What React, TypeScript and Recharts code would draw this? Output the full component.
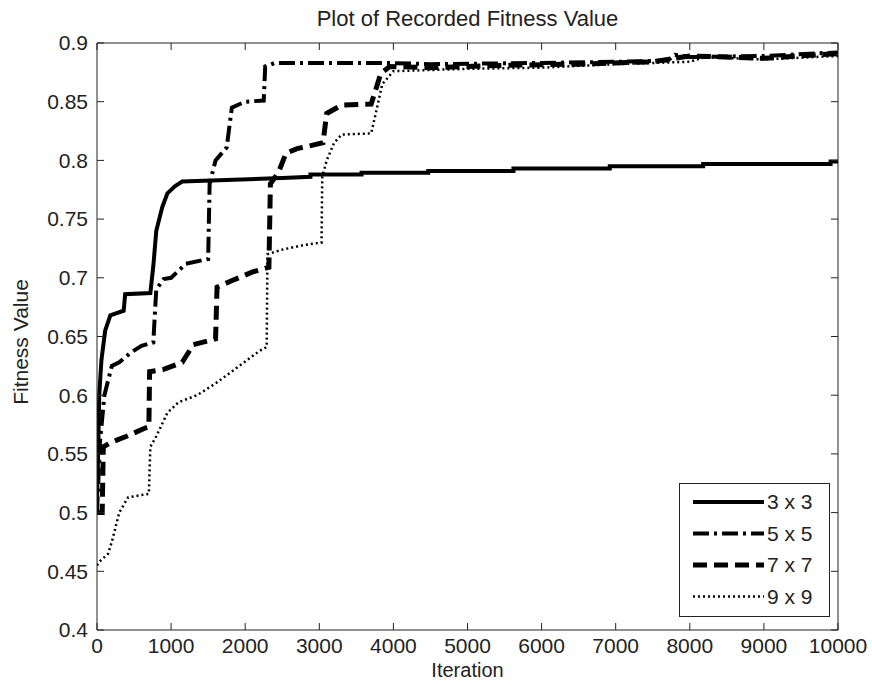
import React from "react";
import { LineChart, Line, XAxis, YAxis, ReferenceLine } from "recharts";

const FONT = '"Liberation Sans", Arial, sans-serif';

const WIDTH = 872;
const HEIGHT = 686;
const MARGIN = { top: 43, right: 34, bottom: 0, left: 0 };
const X_AXIS_H = 56;
const Y_AXIS_W = 97;
const PLOT_TOP = MARGIN.top;
const PLOT_BOTTOM = HEIGHT - MARGIN.bottom - X_AXIS_H;
const PLOT_LEFT = MARGIN.left + Y_AXIS_W;
const PLOT_RIGHT = WIDTH - MARGIN.right;
const TICK_LEN = 7;

const xTicks = [0, 1000, 2000, 3000, 4000, 5000, 6000, 7000, 8000, 9000, 10000];
const yTicks = [0.4, 0.45, 0.5, 0.55, 0.6, 0.65, 0.7, 0.75, 0.8, 0.85, 0.9];

// 3 x 3 (solid)
const iter3x3 = [0, 15, 30, 60, 110, 180, 360, 380, 720, 760, 800, 880, 950, 1050, 1150, 2500, 2880, 2880, 3570, 3570, 4470, 4470, 5620, 5620, 6920, 6920, 8180, 8180, 9900, 9900, 10000];
const fit3x3 = [0.51, 0.55, 0.6, 0.63, 0.655, 0.668, 0.672, 0.686, 0.687, 0.71, 0.74, 0.76, 0.772, 0.778, 0.782, 0.785, 0.786, 0.788, 0.788, 0.7895, 0.7895, 0.791, 0.791, 0.793, 0.793, 0.795, 0.795, 0.797, 0.797, 0.799, 0.799];

// 5 x 5 (dash-dot)
const iter5x5 = [0, 40, 100, 200, 300, 450, 600, 760, 780, 800, 900, 1000, 1200, 1500, 1520, 1600, 1750, 1820, 2000, 2250, 2270, 2400, 3900, 4500, 6000, 7000, 7700, 7800, 8000, 9000, 10000];
const fit5x5 = [0.5, 0.56, 0.6, 0.625, 0.628, 0.636, 0.642, 0.645, 0.668, 0.69, 0.699, 0.7, 0.712, 0.716, 0.78, 0.8, 0.811, 0.845, 0.85, 0.851, 0.88, 0.883, 0.883, 0.882, 0.883, 0.884, 0.885, 0.89, 0.888, 0.889, 0.892];

// 7 x 7 (dashed)
const iter7x7 = [0, 70, 85, 200, 400, 650, 700, 710, 900, 1150, 1300, 1600, 1620, 1800, 2100, 2320, 2340, 2450, 2550, 2700, 3050, 3100, 3300, 3700, 3760, 3830, 3950, 4500, 5500, 6500, 7500, 8000, 9000, 10000];
const fit7x7 = [0.5, 0.5, 0.556, 0.56, 0.565, 0.572, 0.573, 0.62, 0.622, 0.628, 0.643, 0.648, 0.692, 0.697, 0.705, 0.709, 0.78, 0.79, 0.806, 0.81, 0.815, 0.84, 0.847, 0.848, 0.86, 0.874, 0.88, 0.879, 0.881, 0.882, 0.884, 0.889, 0.887, 0.891];

// 9 x 9 (dotted)
const iter9x9 = [0, 30, 150, 200, 300, 420, 700, 720, 800, 950, 1100, 1350, 1600, 1900, 2200, 2290, 2300, 2500, 2800, 3030, 3040, 3100, 3200, 3300, 3700, 3780, 3850, 4000, 5000, 6000, 7000, 8000, 8200, 9000, 10000];
const fit9x9 = [0.455, 0.458, 0.465, 0.475, 0.5, 0.513, 0.516, 0.556, 0.565, 0.585, 0.594, 0.6, 0.61, 0.624, 0.638, 0.641, 0.72, 0.724, 0.728, 0.73, 0.786, 0.8, 0.815, 0.822, 0.823, 0.845, 0.865, 0.876, 0.878, 0.879, 0.882, 0.884, 0.888, 0.886, 0.889];

const toPoints = (iters: number[], fits: number[]) =>
  iters.map((iter, i) => ({ iter, fit: fits[i] }));

const series = [
  { name: "3 x 3", data: toPoints(iter3x3, fit3x3), dash: undefined, width: 4 },
  { name: "5 x 5", data: toPoints(iter5x5, fit5x5), dash: "16 5 3 5", width: 4 },
  { name: "7 x 7", data: toPoints(iter7x7, fit7x7), dash: "14 7", width: 5 },
  { name: "9 x 9", data: toPoints(iter9x9, fit9x9), dash: "2 3", width: 2.5 },
];

// matlab style: ticks point inward, on all four sides of the box
const XTick = (props: any) => {
  const { x, y, payload } = props;
  return (
    <g>
      <line x1={x} x2={x} y1={PLOT_BOTTOM} y2={PLOT_BOTTOM - TICK_LEN} stroke="#222" />
      <line x1={x} x2={x} y1={PLOT_TOP} y2={PLOT_TOP + TICK_LEN} stroke="#222" />
      <text x={x} y={y} dy="0.75em" textAnchor="middle" fontSize={21} fontFamily={FONT} fill="#222">
        {payload.value}
      </text>
    </g>
  );
};

const YTick = (props: any) => {
  const { x, y, payload } = props;
  return (
    <g>
      <line x1={PLOT_LEFT} x2={PLOT_LEFT + TICK_LEN} y1={y} y2={y} stroke="#222" />
      <line x1={PLOT_RIGHT} x2={PLOT_RIGHT - TICK_LEN} y1={y} y2={y} stroke="#222" />
      <text x={x} y={y} dy="0.35em" textAnchor="end" fontSize={21} fontFamily={FONT} fill="#222">
        {payload.value}
      </text>
    </g>
  );
};

// legend drawn on top of the plot, like matlab's "southeast" box
const LegendBox = () => (
  <div
    style={{
      position: "absolute",
      left: 679,
      top: 483,
      width: 151,
      height: 134,
      border: "1px solid #222",
      background: "#fff",
      boxSizing: "border-box",
    }}
  >
    <svg width={149} height={132} style={{ display: "block" }}>
      {series.map((s, i) => {
        const y = 18 + i * 31.5;
        return (
          <g key={s.name}>
            <line
              x1={13}
              x2={84}
              y1={y}
              y2={y}
              stroke="#000"
              strokeWidth={s.width}
              strokeDasharray={s.dash}
            />
            <text x={87} y={y} dy="0.35em" fontSize={21} fontFamily={FONT} fill="#222">
              {s.name}
            </text>
          </g>
        );
      })}
    </svg>
  </div>
);

export default function App() {
  return (
    <div
      style={{
        position: "absolute",
        left: 0,
        top: 0,
        width: WIDTH,
        height: HEIGHT,
        background: "#fff",
        fontFamily: FONT,
      }}
    >
      <LineChart width={WIDTH} height={HEIGHT} margin={MARGIN}>
        <XAxis
          dataKey="iter"
          type="number"
          domain={[0, 10000]}
          ticks={xTicks}
          height={X_AXIS_H}
          tickLine={false}
          tickSize={0}
          tickMargin={7}
          tick={XTick}
          stroke="#222"
          allowDataOverflow
        />
        <YAxis
          type="number"
          domain={[0.4, 0.9]}
          ticks={yTicks}
          width={Y_AXIS_W}
          tickLine={false}
          tickSize={0}
          tickMargin={9}
          tick={YTick}
          stroke="#222"
          allowDataOverflow
        />
        <ReferenceLine y={0.9} stroke="#222" strokeWidth={1} />
        <ReferenceLine x={10000} stroke="#222" strokeWidth={1} />
        {series.map((s) => (
          <Line
            key={s.name}
            data={s.data}
            dataKey="fit"
            name={s.name}
            type="linear"
            stroke="#000"
            strokeWidth={s.width}
            strokeDasharray={s.dash}
            dot={false}
            activeDot={false}
            isAnimationActive={false}
          />
        ))}
      </LineChart>
      <LegendBox />
      <div
        style={{
          position: "absolute",
          left: PLOT_LEFT,
          width: PLOT_RIGHT - PLOT_LEFT,
          top: 6,
          textAlign: "center",
          fontSize: 22,
          color: "#222",
        }}
      >
        Plot of Recorded Fitness Value
      </div>
      <div
        style={{
          position: "absolute",
          left: PLOT_LEFT,
          width: PLOT_RIGHT - PLOT_LEFT,
          top: 659,
          textAlign: "center",
          fontSize: 20,
          color: "#222",
        }}
      >
        Iteration
      </div>
      <div
        style={{
          position: "absolute",
          left: 21,
          top: 342,
          transform: "translate(-50%, -50%) rotate(-90deg)",
          whiteSpace: "nowrap",
          fontSize: 21,
          color: "#222",
        }}
      >
        Fitness Value
      </div>
    </div>
  );
}
